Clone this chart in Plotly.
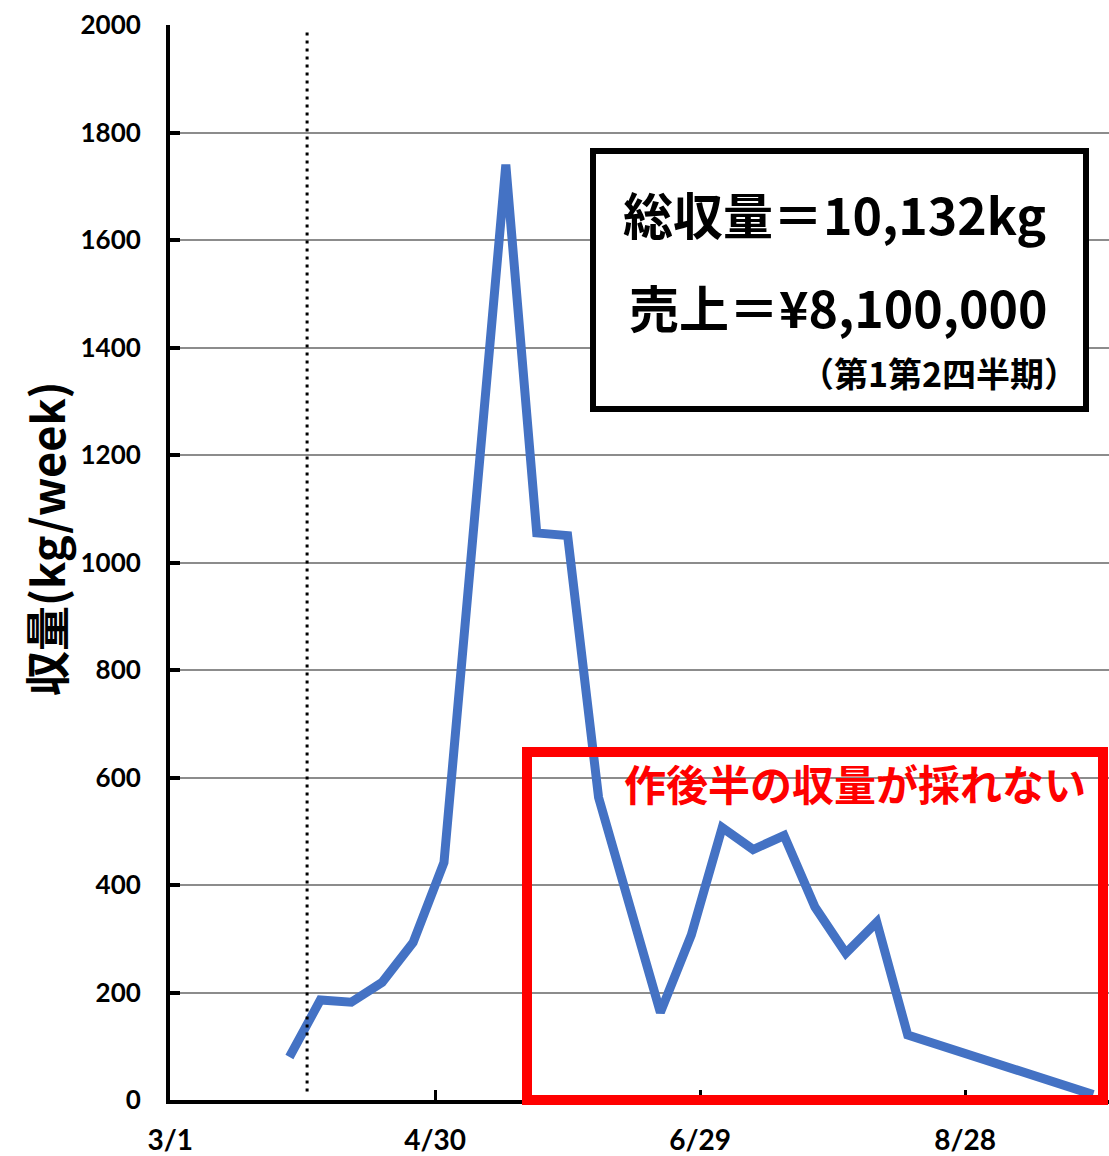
import plotly.graph_objects as go

# Weekly harvest (kg/week)
week_dates = [
    "2021-03-28", "2021-04-04", "2021-04-11", "2021-04-18", "2021-04-25",
    "2021-05-02", "2021-05-09", "2021-05-16", "2021-05-23", "2021-05-30",
    "2021-06-06", "2021-06-13", "2021-06-20", "2021-06-27", "2021-07-04",
    "2021-07-11", "2021-07-18", "2021-07-25", "2021-08-01", "2021-08-08",
    "2021-08-15", "2021-09-26",
]
harvest_kg = [
    80, 186, 182, 219, 293,
    442, 1090, 1740, 1055, 1050,
    563, 362, 163, 307, 507,
    466, 492, 359, 273, 331,
    121, 10,
]

tick_dates = ["2021-03-01", "2021-04-30", "2021-06-29", "2021-08-28"]
tick_labels = ["3/1", "4/30", "6/29", "8/28"]
y_ticks = [0, 200, 400, 600, 800, 1000, 1200, 1400, 1600, 1800, 2000]

planting_date = "2021-04-01"

summary_lines = ["総収量＝10,132kg", "売上＝¥8,100,000", "（第1第2四半期）"]
warning_text = "作後半の収量が採れない"

LATIN = "Lato, 'Open Sans', sans-serif"
CJK = "'Noto Sans CJK JP', sans-serif"

# plot area in pixels: left 170, right 1109, top 25, bottom 1100
def px_x(p):
    return (p - 170) / 939

def px_y(p):
    return (1100 - p) / 1075

fig = go.Figure()
fig.add_trace(go.Scatter(
    x=week_dates, y=harvest_kg, mode="lines",
    line=dict(color="#4472C4", width=9),
    hoverinfo="x+y", showlegend=False,
))

# planting marker
fig.add_shape(type="line", xref="x", yref="paper",
              x0=planting_date, x1=planting_date, y0=0.008, y1=0.993,
              line=dict(color="black", width=3, dash="3px,5px"), layer="above")

# summary box
fig.add_shape(type="rect", xref="paper", yref="paper",
              x0=px_x(593), x1=px_x(1086), y0=px_y(409), y1=px_y(151),
              line=dict(color="black", width=6), fillcolor="white", layer="above")

# late-season box
fig.add_shape(type="rect", xref="paper", yref="paper",
              x0=px_x(527), x1=px_x(1103), y0=px_y(1100), y1=px_y(752),
              line=dict(color="#FF0000", width=10), fillcolor="rgba(0,0,0,0)", layer="above")

def label(text, cx, cy, size, color="black", angle=0):
    fig.add_annotation(text=text, xref="paper", yref="paper",
                       x=px_x(cx), y=px_y(cy), xanchor="center", yanchor="middle",
                       showarrow=False, textangle=angle,
                       font=dict(family=CJK, size=size, color=color, weight="bold"))

label(summary_lines[0], 834, 213, 50)
label(summary_lines[1], 838, 306, 50)
label(summary_lines[2], 939, 372, 34)
label(warning_text, 855, 783, 42, color="#FF0000")

# y axis title
label("収量(kg/week)", 45, 539, 45, angle=-90)

fig.update_xaxes(
    type="date",
    range=["2021-02-28 23:00", "2021-09-29 14:00"],
    tickvals=tick_dates, ticktext=tick_labels,
    ticks="inside", ticklen=10, tickwidth=3, tickcolor="black",
    showline=True, linewidth=4, linecolor="black",
    showgrid=False, zeroline=False,
    tickfont=dict(family=LATIN, size=28, color="black", weight="bold"),
    ticklabelstandoff=12,
)
fig.update_yaxes(
    range=[0, 2000],
    tickvals=y_ticks,
    ticks="inside", ticklen=10, tickwidth=4, tickcolor="black",
    showline=True, linewidth=4, linecolor="black",
    showgrid=True, gridcolor="#8C8C8C", gridwidth=2,
    zeroline=False,
    tickfont=dict(family=LATIN, size=26, color="black", weight="bold"),
    ticklabelstandoff=20,
)

fig.update_layout(
    width=1109, height=1156,
    margin=dict(l=170, r=0, t=25, b=56),
    plot_bgcolor="white", paper_bgcolor="white",
)

fig.write_html("out.html")
